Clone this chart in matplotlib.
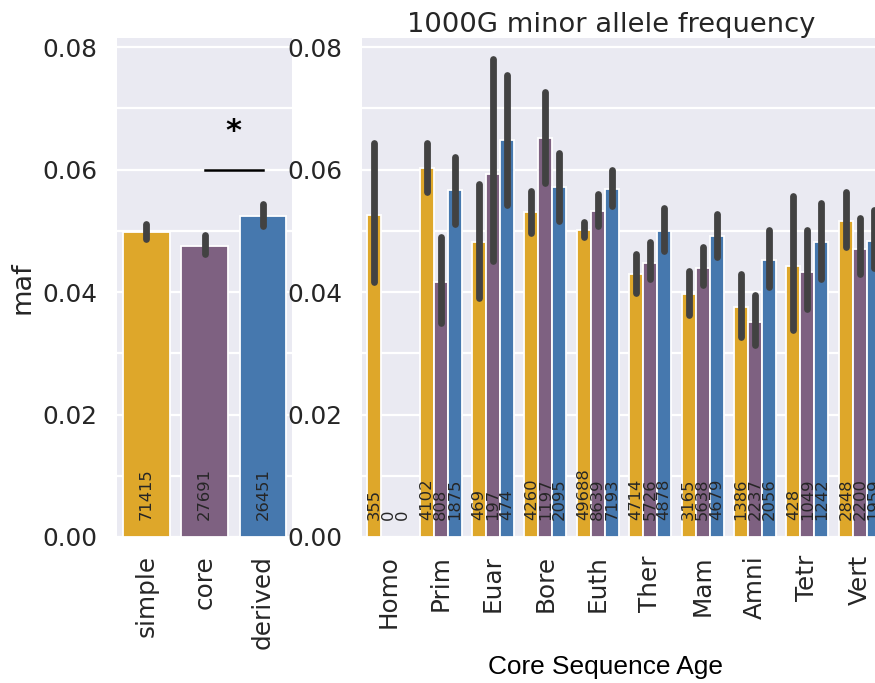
import numpy as np
import matplotlib
matplotlib.use("Agg")
import matplotlib.pyplot as plt
from matplotlib.ticker import MultipleLocator, FixedLocator

# ---- data -------------------------------------------------------------
arch_labels = ["simple", "core", "derived"]
arch_maf = [0.0498, 0.0475, 0.0524]
arch_lo = [0.0487, 0.0462, 0.0508]
arch_hi = [0.0511, 0.0493, 0.0544]
arch_n = [71415, 27691, 26451]

ages = ["Homo", "Prim", "Euar", "Bore", "Euth", "Ther", "Mam", "Amni", "Tetr", "Vert"]

simple_maf = [0.0526, 0.0602, 0.0481, 0.0531, 0.0501, 0.0429, 0.0397, 0.0376, 0.0442, 0.0516]
simple_lo = [0.0417, 0.0564, 0.0390, 0.0496, 0.0490, 0.0399, 0.0362, 0.0327, 0.0338, 0.0474]
simple_hi = [0.0643, 0.0643, 0.0577, 0.0565, 0.0515, 0.0463, 0.0435, 0.0429, 0.0557, 0.0563]
simple_n = [355, 4102, 469, 4260, 49688, 4714, 3165, 1386, 428, 2848]

core_maf = [np.nan, 0.0417, 0.0593, 0.0651, 0.0533, 0.0448, 0.0440, 0.0351, 0.0433, 0.0471]
core_lo = [np.nan, 0.0349, 0.0450, 0.0578, 0.0508, 0.0421, 0.0411, 0.0313, 0.0372, 0.0429]
core_hi = [np.nan, 0.0490, 0.0780, 0.0727, 0.0561, 0.0482, 0.0473, 0.0395, 0.0501, 0.0521]
core_n = [0, 808, 197, 1197, 8639, 5726, 5638, 2237, 1049, 2200]

derived_maf = [np.nan, 0.0567, 0.0649, 0.0572, 0.0569, 0.0500, 0.0491, 0.0452, 0.0482, 0.0484]
derived_lo = [np.nan, 0.0512, 0.0542, 0.0516, 0.0540, 0.0467, 0.0458, 0.0408, 0.0422, 0.0439]
derived_hi = [np.nan, 0.0621, 0.0755, 0.0627, 0.0599, 0.0538, 0.0527, 0.0501, 0.0546, 0.0534]
derived_n = [0, 1875, 474, 2095, 7193, 4878, 4679, 2056, 1242, 1959]

# ---- style ------------------------------------------------------------
colors = ["#dea72a", "#7e6181", "#4678ae"]
err_color = "#424242"
text_color = "#262626"

plt.rcParams.update({
    "font.family": ["DejaVu Sans"],
    "axes.facecolor": "#eaeaf2",
    "axes.edgecolor": "white",
    "grid.color": "white",
    "grid.linewidth": 1.6,
    "xtick.color": text_color,
    "ytick.color": text_color,
    "text.color": text_color,
    "axes.labelcolor": text_color,
})

YMAX = 0.0815
TICK_FS = 17.8
COUNT_FS = 11.8

fig = plt.figure(figsize=(8.75, 6.83), dpi=100)
ax1 = fig.add_axes([117 / 875, 146 / 683, 175 / 875, 499 / 683])
ax2 = fig.add_axes([362 / 875, 146 / 683, 524 / 875, 499 / 683])


def style_axes(ax):
    for s in ax.spines.values():
        s.set_visible(False)
    ax.set_ylim(0, YMAX)
    ax.yaxis.set_major_locator(FixedLocator([0, 0.02, 0.04, 0.06, 0.08]))
    ax.yaxis.set_minor_locator(MultipleLocator(0.01))
    ax.set_yticklabels(["0.00", "0.02", "0.04", "0.06", "0.08"])
    ax.grid(axis="y", which="both")
    ax.grid(axis="x", visible=False)
    ax.set_axisbelow(True)
    ax.tick_params(axis="both", which="both", length=0, labelsize=TICK_FS)
    ax.tick_params(axis="y", pad=14)
    ax.tick_params(axis="x", pad=13, labelrotation=90)


def draw_bar(ax, x, w, val, lo, hi, color):
    ax.bar(x, val, width=w, color=color, edgecolor="white", linewidth=1.3, zorder=2)
    ax.plot([x, x], [lo, hi], color=err_color, lw=4.9,
            solid_capstyle="round", zorder=3)


# ---- left panel: architecture ---------------------------------------------
style_axes(ax1)
for i in range(len(arch_labels)):
    draw_bar(ax1, i, 0.8, arch_maf[i], arch_lo[i], arch_hi[i], colors[i])
    ax1.text(i, 0.0027, str(arch_n[i]), rotation=90, ha="center", va="bottom",
             fontsize=COUNT_FS)
ax1.set_xlim(-0.5, 2.5)
ax1.set_xticks(range(len(arch_labels)))
ax1.set_xticklabels(arch_labels)
ax1.set_ylabel("maf", fontsize=19.5)
ax1.yaxis.set_label_coords(-0.463, 0.5)

# significance bracket between core and derived
ax1.plot([1, 2], [0.060, 0.060], color="black", lw=1.8, zorder=4)
ax1.text(1.5, 0.0663, "*", ha="center", va="center", fontsize=22,
         fontweight="bold", color="black")

# ---- right panel: by core sequence age -----------------------------------
style_axes(ax2)
bw = 0.8 / 3
series = [
    (simple_maf, simple_lo, simple_hi, simple_n),
    (core_maf, core_lo, core_hi, core_n),
    (derived_maf, derived_lo, derived_hi, derived_n),
]
for h, (m, lo, hi, n) in enumerate(series):
    off = (h - 1) * bw
    for i in range(len(ages)):
        x = i + off
        if not np.isnan(m[i]):
            draw_bar(ax2, x, bw, m[i], lo[i], hi[i], colors[h])
        ax2.text(x, 0.0027, str(n[i]), rotation=90, ha="center", va="bottom",
                 fontsize=COUNT_FS, clip_on=True)
ax2.set_xlim(-0.5, len(ages) - 0.5)
ax2.set_xticks(range(len(ages)))
ax2.set_xticklabels(ages)
ax2.set_title("1000G minor allele frequency", fontsize=19.7, pad=4,
              x=(611 - 362) / 524)
ax2.set_xlabel("Core Sequence Age", fontsize=18.9, family=["Liberation Sans"],
               color="black")
ax2.xaxis.set_label_coords((606 - 362) / 524, -0.236)

fig.savefig("out.png", dpi=100)
